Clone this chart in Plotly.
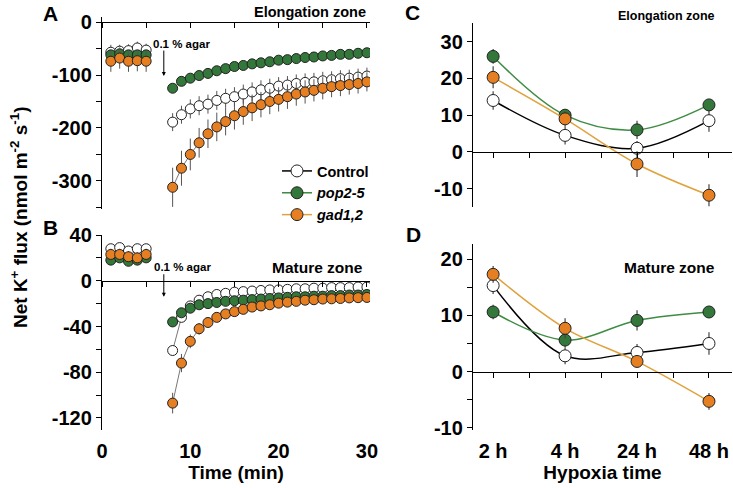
import math
import plotly.graph_objects as go

W, H = 733, 488

# time course (min)
time_pre = [1, 2, 3, 4, 5]
time_post = [8, 9, 10, 11, 12, 13, 14, 15, 16, 17, 18, 19, 20, 21, 22, 23, 24, 25, 26, 27, 28, 29, 30]

# A - elongation zone
ctrl_el_pre = [-57, -55, -54, -49, -53]
ctrl_el_pre_err = [14, 12, 12, 12, 12]
pop_el_pre = [-62, -60, -62, -62, -62]
pop_el_pre_err = [8, 8, 8, 8, 8]
gad_el_pre = [-74, -68, -74, -73, -74]
gad_el_pre_err = [20, 20, 20, 20, 20]

ctrl_el_post = [-189, -175, -164, -158, -155, -148, -144, -141, -136, -132, -128, -125, -121,
                -119, -116, -114, -113, -111, -109, -107, -106, -104, -102]
ctrl_el_post_err = [17, 17, 18, 18, 18, 18, 18, 18, 18, 18, 18, 18, 17, 17, 17, 17, 17, 17, 16, 16, 16, 16, 16]
pop_el_post = [-125, -112, -106, -101, -97, -92, -88, -84, -82, -79, -77, -75, -72,
               -71, -69, -67, -66, -64, -63, -61, -61, -59, -58]
pop_el_post_err = [6, 5, 5, 5, 5, 5, 5, 5, 4, 4, 4, 4, 4, 4, 4, 4, 4, 4, 4, 4, 4, 4, 4]
gad_el_post = [-312, -276, -250, -228, -211, -198, -188, -177, -169, -162, -156, -150, -146,
               -141, -136, -132, -129, -125, -122, -120, -118, -116, -113]
gad_el_post_err = [37, 33, 30, 28, 27, 27, 26, 26, 25, 25, 24, 24, 23, 23, 22, 22, 21, 21, 20, 20, 19, 19, 18]

# B - mature zone
ctrl_ma_pre = [28, 29, 26, 28, 28]
ctrl_ma_pre_err = [4, 4, 4, 4, 4]
pop_ma_pre = [18, 20, 17, 18, 20]
pop_ma_pre_err = [4, 4, 4, 4, 4]
gad_ma_pre = [23, 23, 21, 20, 23]
gad_ma_pre_err = [5, 5, 5, 5, 5]

ctrl_ma_post = [-61, -32, -22, -17, -14, -12, -11, -10, -9.5, -9, -8.5, -8, -8,
                -7.5, -7, -7, -6.5, -6.5, -6, -6, -6, -5.5, -5.5]
ctrl_ma_post_err = [4, 4, 3, 3, 3, 3, 3, 3, 3, 3, 3, 3, 3, 3, 3, 3, 3, 3, 3, 3, 3, 3, 3]
pop_ma_post = [-36, -28, -24, -21, -20, -19, -18, -17.5, -17, -16.5, -16, -15.5, -15,
               -14.5, -14, -14, -13.5, -13.5, -13, -13, -12.5, -12.5, -12]
pop_ma_post_err = [3, 3, 3, 3, 3, 3, 3, 3, 3, 3, 3, 3, 3, 3, 3, 3, 3, 3, 3, 3, 3, 3, 3]
gad_ma_post = [-107, -72, -53, -42, -36.5, -32, -29, -27, -25, -23, -22, -21, -19.6,
               -18.7, -18, -17, -16.6, -16, -15.8, -15.5, -15, -14.8, -14.6]
gad_ma_post_err = [9, 8, 6, 5, 4, 4, 3, 3, 3, 3, 3, 3, 3, 3, 3, 3, 3, 3, 3, 3, 3, 3, 3]

# C / D - hypoxia time
hypoxia_labels = ['2 h', '4 h', '24 h', '48 h']
hypoxia_pos = [1, 2, 3, 4]

ctrl_c = [14, 4.5, 1, 8.5]
ctrl_c_err = [2.5, 2.5, 2, 3]
pop_c = [26, 10, 6, 12.8]
pop_c_err = [2, 1.5, 2.5, 1]
gad_c = [20.3, 9, -3.3, -11.8]
gad_c_err = [3, 2, 3.5, 3]

ctrl_d = [15.3, 2.8, 3.4, 5]
ctrl_d_err = [1.5, 1.5, 1.5, 2]
pop_d = [10.6, 5.6, 9.1, 10.6]
pop_d_err = [1.3, 1.3, 1.8, 0.8]
gad_d = [17.3, 7.7, 1.8, -5.3]
gad_d_err = [1.5, 1.8, 1, 1.5]

time_ticks = [0, 10, 20, 30]
yticks_a = [0, -100, -200, -300]
yticks_b = [40, 0, -40, -80, -120]
yticks_c = [30, 20, 10, 0, -10]
yticks_d = [20, 10, 0, -10]

FONT = 'Arial, Liberation Sans, sans-serif'
GREEN = '#33773a'
ORANGE = '#e67f22'
GREEN_LINE = '#3f8c44'
ORANGE_LINE = '#e0a23c'


def fx(px):
    return px / W


def fy(py):
    return 1 - py / H


def zero_pos(domain, rng):
    return domain[0] + (0 - rng[0]) / (rng[1] - rng[0]) * (domain[1] - domain[0])


def tick_arrays(labels, step, lo, hi):
    vals, text = [], []
    v = step * math.floor(hi / step)
    while v >= lo:
        vals.append(v)
        text.append(str(int(v)) if v in labels else '')
        v -= step
    return vals, text


fig = go.Figure()

series = [
    ('Control', 'white', 'black'),
    ('<i>pop2-5</i>', GREEN, GREEN_LINE),
    ('<i>gad1,2</i>', ORANGE, ORANGE_LINE),
]

time_data = {
    ('x', 'y'): [
        [(time_pre, ctrl_el_pre, ctrl_el_pre_err), (time_post, ctrl_el_post, ctrl_el_post_err)],
        [(time_pre, pop_el_pre, pop_el_pre_err), (time_post, pop_el_post, pop_el_post_err)],
        [(time_pre, gad_el_pre, gad_el_pre_err), (time_post, gad_el_post, gad_el_post_err)],
    ],
    ('x2', 'y2'): [
        [(time_pre, ctrl_ma_pre, ctrl_ma_pre_err), (time_post, ctrl_ma_post, ctrl_ma_post_err)],
        [(time_pre, pop_ma_pre, pop_ma_pre_err), (time_post, pop_ma_post, pop_ma_post_err)],
        [(time_pre, gad_ma_pre, gad_ma_pre_err), (time_post, gad_ma_post, gad_ma_post_err)],
    ],
}

for (xa, ya), groups in time_data.items():
    for (name, fill, _), parts in zip(series, groups):
        for xs, ys, es in parts:
            fig.add_trace(go.Scatter(
                x=xs, y=ys, mode='lines+markers', xaxis=xa, yaxis=ya, showlegend=False,
                line=dict(color='#555555', width=0.8),
                marker=dict(size=10, color=fill, line=dict(color='#222222', width=1)),
                error_y=dict(type='data', array=es, color='#555555', thickness=1, width=0),
            ))

hyp_data = {
    ('x3', 'y3'): [(ctrl_c, ctrl_c_err), (pop_c, pop_c_err), (gad_c, gad_c_err)],
    ('x4', 'y4'): [(ctrl_d, ctrl_d_err), (pop_d, pop_d_err), (gad_d, gad_d_err)],
}

for (xa, ya), groups in hyp_data.items():
    for (name, fill, lcol), (ys, es) in zip(series, groups):
        fig.add_trace(go.Scatter(
            x=hypoxia_pos, y=ys, mode='lines+markers', xaxis=xa, yaxis=ya, name=name,
            showlegend=(xa == 'x3'),
            line=dict(color=lcol, width=1.5, shape='spline'),
            marker=dict(size=12, color=fill, line=dict(color='#222222', width=1)),
            error_y=dict(type='data', array=es, color='#444444', thickness=1.2, width=0),
        ))

# empty traces so that the overlaid label axes are drawn
fig.add_trace(go.Scatter(x=[], y=[], xaxis='x5', yaxis='y2', showlegend=False))
fig.add_trace(go.Scatter(x=[], y=[], xaxis='x6', yaxis='y4', showlegend=False))

dom_left = [fx(102), fx(370)]
dom_right = [fx(473), fx(732)]
dom_a = [fy(209), fy(17)]
dom_b = [fy(430), fy(235)]
dom_c = [fy(207), fy(23)]
dom_d = [fy(430), fy(244)]

rng_time = [0, 30.35]
rng_hyp = [0.72, 4.32]
rng_a = [-353, 9.5]
rng_b = [-130.5, 40]
rng_c = [-15, 35.1]
rng_d = [-10.4, 22.7]

tickfont = dict(family=FONT, size=20, color='black', weight='bold')
titlefont = dict(family=FONT, size=19, color='black', weight='bold')

line_axis = dict(showline=True, linecolor='black', linewidth=1.3, ticks='outside', ticklen=5,
                 tickwidth=1.3, tickcolor='black', showgrid=False, zeroline=False,
                 tickfont=tickfont, automargin=False)


def y_axis(domain, rng, anchor, labels, step):
    vals, text = tick_arrays(labels, step, rng[0], rng[1])
    return dict(line_axis, domain=domain, range=rng, anchor=anchor,
                tickmode='array', tickvals=vals, ticktext=text)


def zero_x_axis(domain, rng, ydom, yrng, tick0, dtick):
    return dict(line_axis, domain=domain, range=rng, anchor='free', position=zero_pos(ydom, yrng),
                tick0=tick0, dtick=dtick, showticklabels=False)


def label_x_axis(domain, rng, over, anchor, tickvals, ticktext, title):
    return dict(domain=domain, range=rng, overlaying=over, anchor=anchor, showline=False,
                showgrid=False, zeroline=False, ticks='outside', ticklen=3, tickcolor='rgba(0,0,0,0)',
                tickmode='array', tickvals=tickvals, ticktext=ticktext, tickfont=tickfont,
                automargin=False, title=dict(text=title, font=titlefont, standoff=0))


fig.update_layout(
    template='none',
    width=W, height=H,
    margin=dict(l=0, r=0, t=0, b=0, autoexpand=False),
    paper_bgcolor='white', plot_bgcolor='rgba(0,0,0,0)',
    font=dict(family=FONT, color='black', weight='bold'),
    xaxis=zero_x_axis(dom_left, rng_time, dom_a, rng_a, 0, 5),
    yaxis=y_axis(dom_a, rng_a, 'x', yticks_a, 50),
    xaxis2=zero_x_axis(dom_left, rng_time, dom_b, rng_b, 0, 5),
    yaxis2=y_axis(dom_b, rng_b, 'x2', yticks_b, 20),
    xaxis3=zero_x_axis(dom_right, rng_hyp, dom_c, rng_c, 1, 0.5),
    yaxis3=y_axis(dom_c, rng_c, 'x3', yticks_c, 10),
    xaxis4=zero_x_axis(dom_right, rng_hyp, dom_d, rng_d, 1, 0.5),
    yaxis4=y_axis(dom_d, rng_d, 'x4', yticks_d, 5),
    xaxis5=label_x_axis(dom_left, rng_time, 'x2', 'y2', time_ticks, [str(t) for t in time_ticks], 'Time (min)'),
    xaxis6=label_x_axis(dom_right, rng_hyp, 'x4', 'y4', hypoxia_pos, hypoxia_labels, 'Hypoxia time'),
    legend=dict(x=fx(277), y=fy(155), xanchor='left', yanchor='top', bgcolor='rgba(0,0,0,0)',
                font=dict(family=FONT, size=14.5, color='black', weight='bold'),
                tracegroupgap=0, borderwidth=0),
)

annotations = [
    dict(text='A', x=fx(50), y=fy(13), size=21),
    dict(text='B', x=fx(50), y=fy(227), size=21),
    dict(text='C', x=fx(412), y=fy(12), size=21),
    dict(text='D', x=fx(413), y=fy(234), size=21),
    dict(text='Elongation zone', x=fx(368), y=fy(12), size=14.5, xanchor='right'),
    dict(text='Mature zone', x=fx(365), y=fy(267), size=15.5, xanchor='right'),
    dict(text='Elongation zone', x=fx(717), y=fy(16), size=12.5, xanchor='right'),
    dict(text='Mature zone', x=fx(717), y=fy(267), size=15.5, xanchor='right'),
    dict(text='0.1 % agar', x=fx(181), y=fy(44), size=11.5),
    dict(text='0.1 % agar', x=fx(182), y=fy(267), size=11.5),
]
for a in annotations:
    fig.add_annotation(text=a['text'], x=a['x'], y=a['y'], xref='paper', yref='paper',
                       xanchor=a.get('xanchor', 'center'), yanchor='middle', showarrow=False,
                       font=dict(family=FONT, size=a['size'], color='black', weight='bold'))

fig.add_annotation(text='Net K<sup>+</sup> flux (nmol m<sup>-2</sup> s<sup>-1</sup>)',
                   x=fx(5), y=fy(218), xref='paper', yref='paper', textangle=-90,
                   showarrow=False, font=dict(family=FONT, size=19, color='black', weight='bold'))

# arrows marking agar addition
fig.add_annotation(text='', x=7.0, y=-102, xref='x', yref='y', ax=0, ay=-27,
                   showarrow=True, arrowhead=2, arrowsize=0.8, arrowwidth=1, arrowcolor='black')
fig.add_annotation(text='', x=7.0, y=-14, xref='x2', yref='y2', ax=0, ay=-24,
                   showarrow=True, arrowhead=2, arrowsize=0.8, arrowwidth=1, arrowcolor='black')

# drop the default page margin so the figure sits at the window's top-left corner
fig.write_html('out.html', config={'displayModeBar': False},
               post_script="document.body.style.margin='0px';")
